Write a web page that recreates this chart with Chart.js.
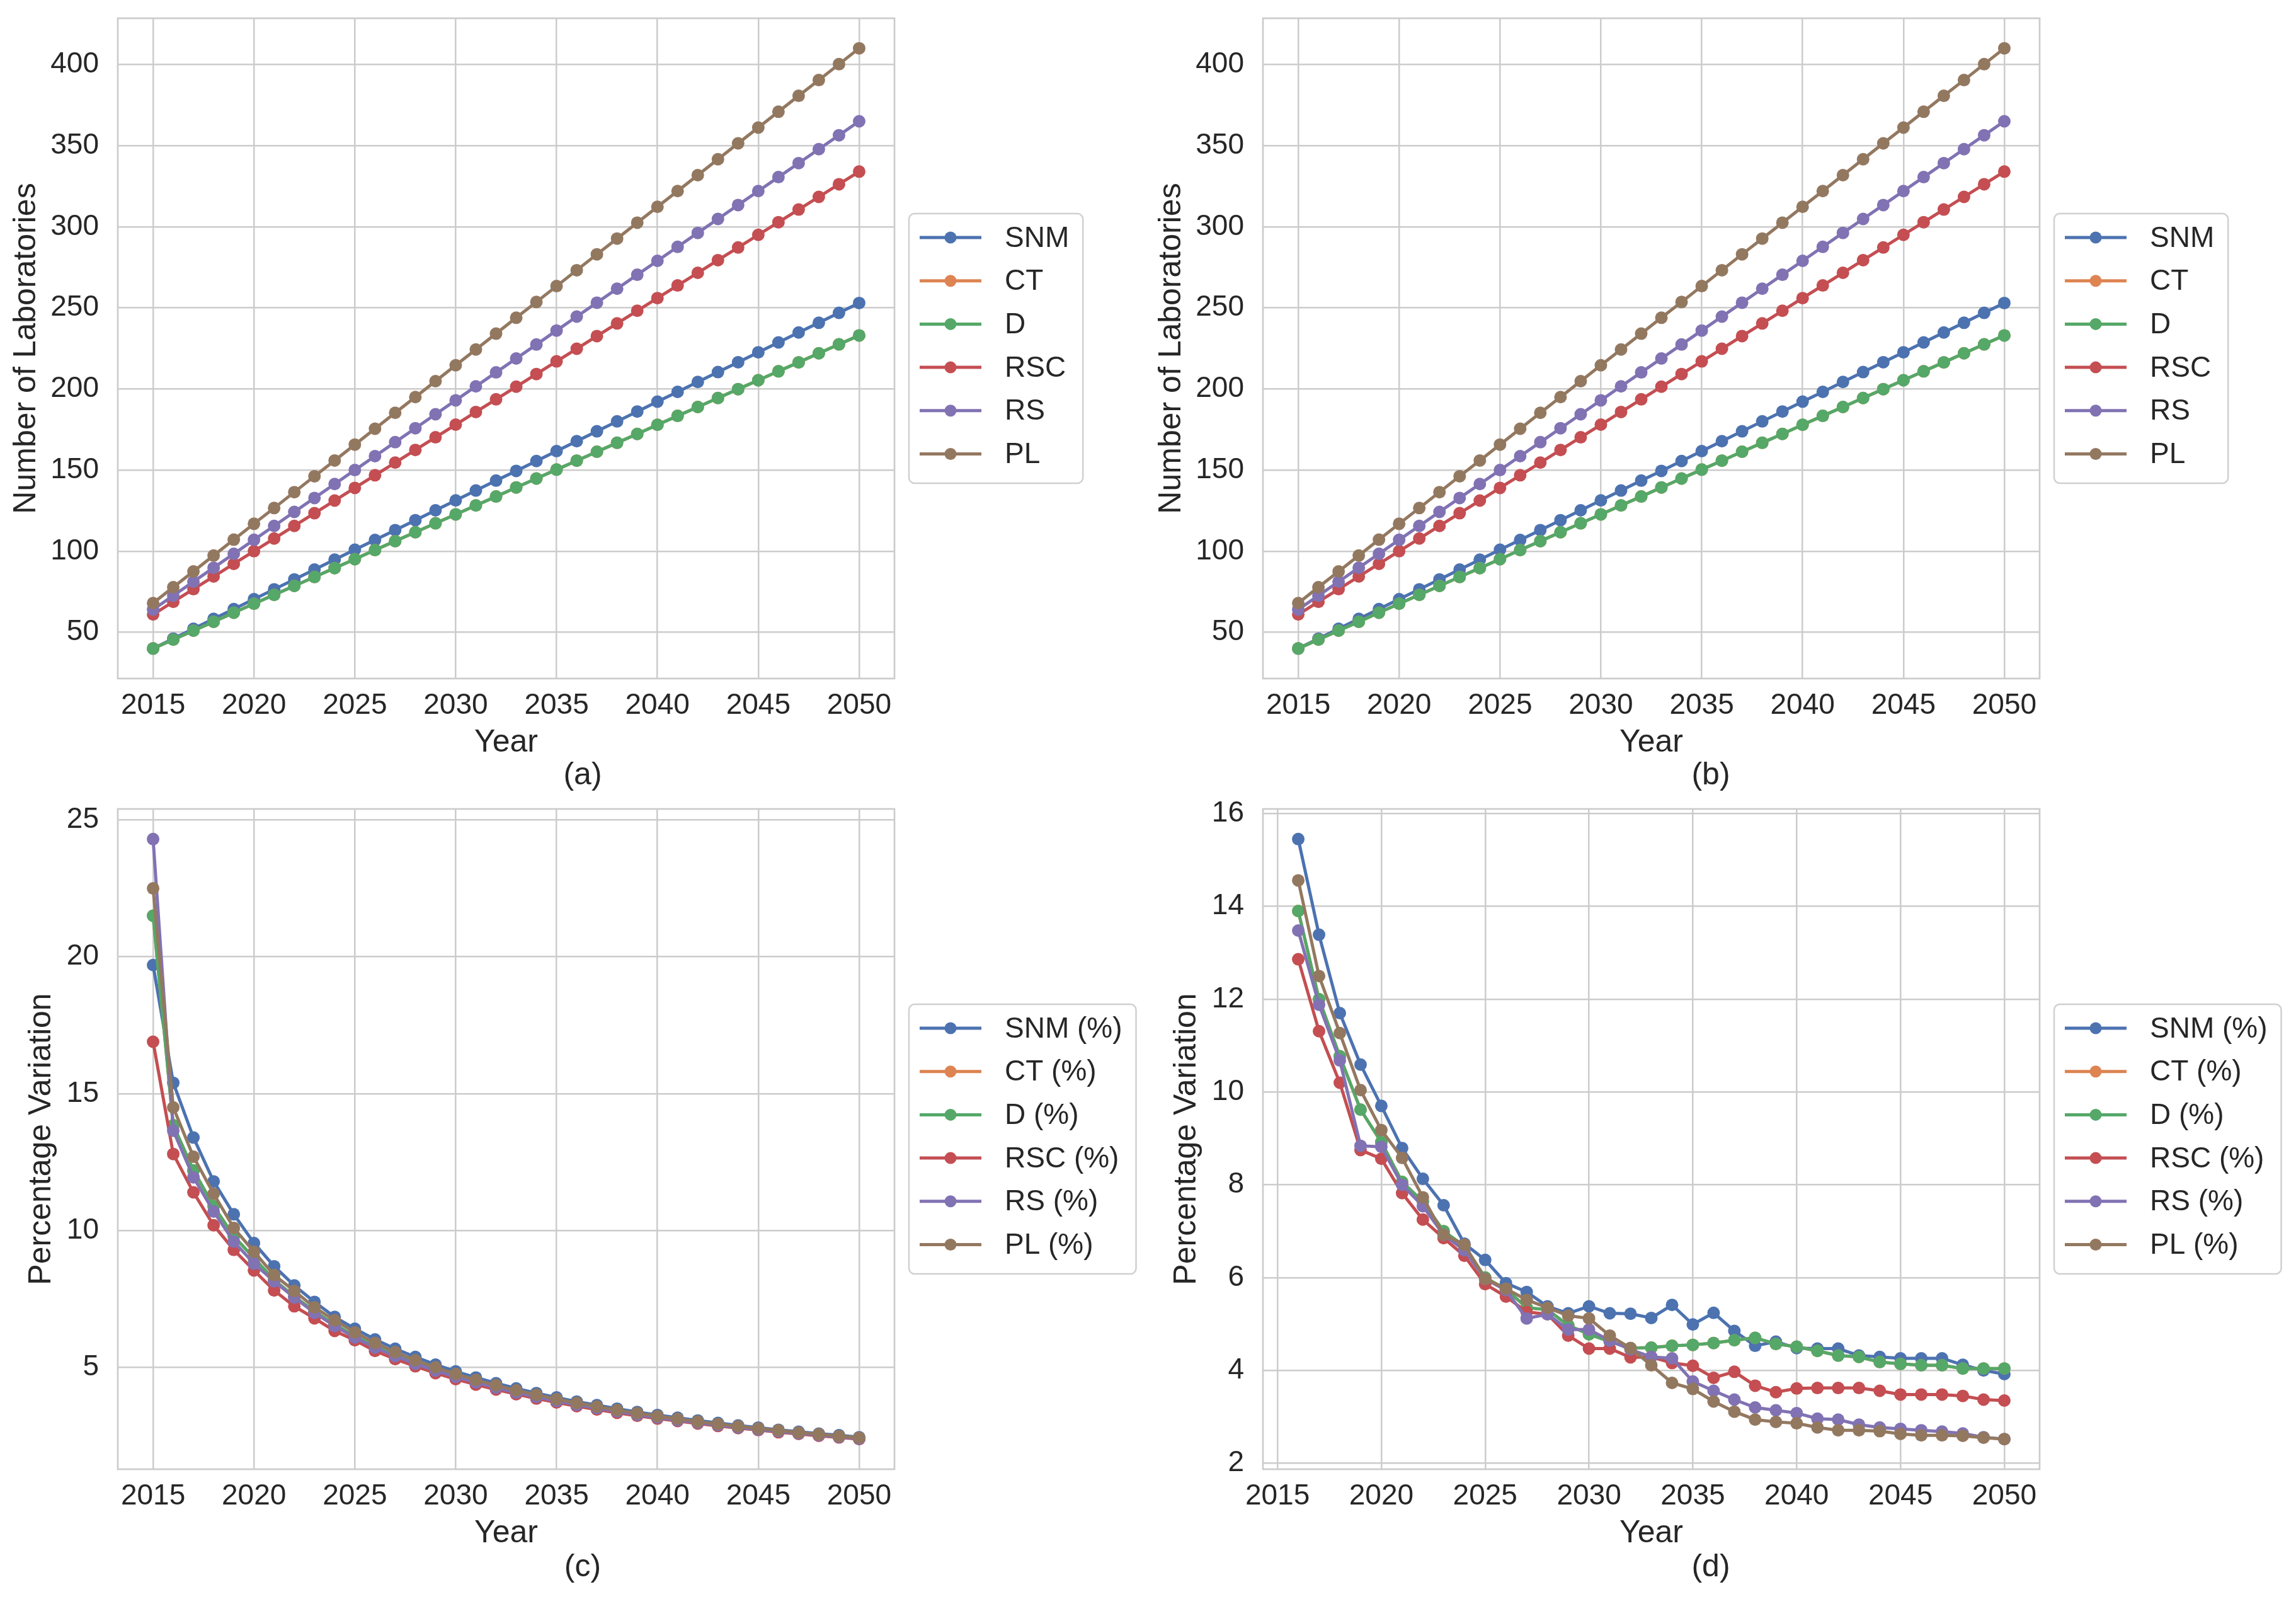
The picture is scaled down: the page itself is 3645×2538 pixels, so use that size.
<!DOCTYPE html>
<html>
<head>
<meta charset="utf-8">
<script src="https://cdn.jsdelivr.net/npm/chart.js@4.4.1/dist/chart.umd.min.js"></script>
<style>
  body { margin: 0; background: #fff; width: 3645px; height: 2538px; position: relative; overflow: hidden; }
  canvas { position: absolute; }
  .tag { position: absolute; transform: translate(-50%, -50%); font: 50px "Liberation Sans", Arial, sans-serif; color: #262626; }
</style>
</head>
<body>
<canvas id="chart-a" width="1850" height="1269" style="left:0;top:0"></canvas>
<canvas id="chart-b" width="1850" height="1269" style="left:1818px;top:0"></canvas>
<canvas id="chart-c" width="1850" height="1269" style="left:0;top:1255px"></canvas>
<canvas id="chart-d" width="1850" height="1269" style="left:1818px;top:1255px"></canvas>
<div class="tag" style="left:925px;top:1228px">(a)</div>
<div class="tag" style="left:2716px;top:1228px">(b)</div>
<div class="tag" style="left:925px;top:2485px">(c)</div>
<div class="tag" style="left:2716px;top:2485px">(d)</div>
<script>
const years = [2015, 2016, 2017, 2018, 2019, 2020, 2021, 2022, 2023, 2024, 2025, 2026,
  2027, 2028, 2029, 2030, 2031, 2032, 2033, 2034, 2035, 2036, 2037, 2038, 2039, 2040,
  2041, 2042, 2043, 2044, 2045, 2046, 2047, 2048, 2049, 2050];
const yearsD = years.slice(1);

const seriesNames = ['SNM', 'CT', 'D', 'RSC', 'RS', 'PL'];
const colors = ['#4C72B0', '#DD8452', '#55A868', '#C44E52', '#8172B3', '#937860'];

// number of laboratories, panels (a) and (b)
const snmCount = [40, 46.1, 52.2, 58.3, 64.3, 70.4, 76.5, 82.6, 88.7, 94.8, 100.9, 106.9,
  113.0, 119.1, 125.2, 131.3, 137.4, 143.5, 149.5, 155.6, 161.7, 167.8, 173.9, 180.0,
  186.1, 192.2, 198.2, 204.3, 210.4, 216.5, 222.6, 228.7, 234.8, 240.8, 246.9, 253.0];
const dCount = [40, 45.5, 51.0, 56.5, 62.1, 67.6, 73.1, 78.6, 84.1, 89.6, 95.1, 100.7,
  106.2, 111.7, 117.2, 122.7, 128.2, 133.7, 139.3, 144.8, 150.3, 155.8, 161.3, 166.8,
  172.3, 177.9, 183.4, 188.9, 194.4, 199.9, 205.4, 210.9, 216.4, 222.0, 227.5, 233.0];
const ctCount = dCount; // CT sits exactly under D in the picture
const rscCount = [61, 68.8, 76.6, 84.4, 92.2, 100, 107.8, 115.6, 123.4, 131.2, 139, 146.8,
  154.6, 162.4, 170.2, 178, 185.8, 193.6, 201.4, 209.2, 217, 224.8, 232.6, 240.4,
  248.2, 256, 263.8, 271.6, 279.4, 287.2, 295, 302.8, 310.6, 318.4, 326.2, 334];
const rsCount = [64, 72.6, 81.2, 89.8, 98.4, 107, 115.6, 124.2, 132.8, 141.4, 150, 158.6,
  167.2, 175.8, 184.4, 193, 201.6, 210.2, 218.8, 227.4, 236, 244.6, 253.2, 261.8,
  270.4, 279, 287.6, 296.2, 304.8, 313.4, 322, 330.6, 339.2, 347.8, 356.4, 365];
const plCount = [68, 77.8, 87.5, 97.3, 107.1, 116.9, 126.6, 136.4, 146.2, 155.9, 165.7, 175.5,
  185.3, 195.0, 204.8, 214.6, 224.3, 234.1, 243.9, 253.6, 263.4, 273.2, 283.0, 292.7,
  302.5, 312.3, 322.0, 331.8, 341.6, 351.4, 361.1, 370.9, 380.7, 390.4, 400.2, 410];

// percentage variation, panel (c)
const snmPctC = [19.7, 15.4, 13.4, 11.8, 10.6, 9.55, 8.7, 8.0, 7.4, 6.85, 6.42, 6.03,
  5.69, 5.39, 5.11, 4.86, 4.64, 4.43, 4.24, 4.07, 3.91, 3.76, 3.63, 3.5,
  3.38, 3.27, 3.17, 3.07, 2.98, 2.89, 2.81, 2.73, 2.66, 2.59, 2.53, 2.46];
const dPctC = [21.5, 13.85, 12.2, 10.9, 9.8, 9.0, 8.2, 7.6, 7.05, 6.58, 6.15, 5.80,
  5.48, 5.19, 4.94, 4.70, 4.49, 4.30, 4.12, 3.96, 3.81, 3.67, 3.54, 3.42,
  3.31, 3.20, 3.10, 3.01, 2.92, 2.84, 2.76, 2.68, 2.61, 2.55, 2.48, 2.42];
const ctPctC = dPctC;
const rscPctC = [16.9, 12.8, 11.4, 10.2, 9.3, 8.55, 7.82, 7.24, 6.8, 6.34, 6.0, 5.61,
  5.31, 5.05, 4.80, 4.58, 4.38, 4.20, 4.03, 3.87, 3.73, 3.59, 3.47, 3.35,
  3.24, 3.14, 3.05, 2.96, 2.87, 2.79, 2.72, 2.64, 2.58, 2.51, 2.45, 2.39];
const rsPctC = [24.3, 13.65, 11.95, 10.7, 9.6, 8.8, 8.15, 7.56, 7.0, 6.52, 6.1, 5.73,
  5.42, 5.14, 4.89, 4.66, 4.46, 4.27, 4.09, 3.93, 3.78, 3.64, 3.52, 3.40,
  3.28, 3.18, 3.08, 2.99, 2.90, 2.82, 2.74, 2.67, 2.60, 2.54, 2.47, 2.41];
const plPctC = [22.5, 14.5, 12.7, 11.35, 10.1, 9.23, 8.38, 7.8, 7.2, 6.73, 6.29, 5.90,
  5.57, 5.27, 5.01, 4.77, 4.55, 4.36, 4.17, 4.01, 3.85, 3.71, 3.58, 3.45,
  3.34, 3.23, 3.13, 3.03, 2.94, 2.86, 2.78, 2.71, 2.63, 2.57, 2.50, 2.44];

// percentage variation, panel (d), 2016-2050
const snmPctD = [15.45, 13.39, 11.7, 10.59, 9.7, 8.79, 8.13, 7.56, 6.73, 6.38, 5.88, 5.69,
  5.38, 5.23, 5.38, 5.23, 5.22, 5.13, 5.41, 4.99, 5.24, 4.85, 4.53, 4.62,
  4.48, 4.47, 4.47, 4.32, 4.29, 4.26, 4.26, 4.26, 4.12, 4.0, 3.92];
const dPctD = [13.9, 12.0, 10.77, 9.62, 8.92, 8.06, 7.64, 7.0, 6.68, 6.0, 5.75, 5.35,
  5.31, 4.97, 4.78, 4.62, 4.48, 4.49, 4.53, 4.55, 4.59, 4.65, 4.7, 4.57,
  4.51, 4.42, 4.32, 4.29, 4.18, 4.14, 4.11, 4.11, 4.04, 4.04, 4.04];
const ctPctD = dPctD;
const rscPctD = [12.86, 11.31, 10.2, 8.75, 8.56, 7.82, 7.25, 6.85, 6.47, 5.86, 5.59, 5.26,
  5.21, 4.75, 4.47, 4.47, 4.28, 4.29, 4.16, 4.1, 3.84, 3.97, 3.67, 3.53,
  3.61, 3.62, 3.62, 3.62, 3.56, 3.48, 3.48, 3.48, 3.45, 3.37, 3.35];
const rsPctD = [13.48, 11.88, 10.68, 8.84, 8.82, 8.0, 7.54, 6.92, 6.59, 5.97, 5.73, 5.12,
  5.21, 4.88, 4.88, 4.64, 4.45, 4.29, 4.26, 3.76, 3.56, 3.37, 3.2, 3.14,
  3.08, 2.96, 2.94, 2.83, 2.77, 2.74, 2.71, 2.68, 2.64, 2.56, 2.52];
const plPctD = [14.56, 12.5, 11.27, 10.04, 9.18, 8.58, 7.73, 6.92, 6.71, 5.97, 5.76, 5.52,
  5.35, 5.18, 5.12, 4.75, 4.48, 4.11, 3.73, 3.6, 3.33, 3.11, 2.94, 2.89,
  2.86, 2.77, 2.71, 2.71, 2.69, 2.63, 2.6, 2.6, 2.59, 2.55, 2.52];

const FONT = '"Liberation Sans", Arial, sans-serif';
const INK = '#262626';
const GRID = '#cccccc';

Chart.defaults.font.family = FONT;
Chart.defaults.color = INK;

// plot frame on all four sides, like the seaborn whitegrid spines
const frame = {
  id: 'frame',
  beforeDatasetsDraw(chart) {
    const { ctx, chartArea: a } = chart;
    ctx.save();
    ctx.strokeStyle = GRID;
    ctx.lineWidth = 2.7;
    ctx.strokeRect(a.left, a.top, a.right - a.left, a.bottom - a.top);
    ctx.restore();
  }
};

// boxed legend to the right of the plot, line + dot sample
const boxLegend = {
  id: 'boxLegend',
  afterDraw(chart) {
    const { ctx, chartArea: a } = chart;
    const sets = chart.data.datasets;
    ctx.save();
    ctx.font = '46px ' + FONT;
    let tw = 0;
    sets.forEach(s => { tw = Math.max(tw, ctx.measureText(s.label).width); });
    const x0 = a.right + 23;
    const w = 152 + tw + 22;
    const h = 428;
    const y0 = (a.top + a.bottom) / 2 - h / 2;
    ctx.fillStyle = 'rgba(255,255,255,0.8)';
    ctx.strokeStyle = '#d0d0d0';
    ctx.lineWidth = 2.5;
    ctx.beginPath();
    ctx.roundRect(x0, y0, w, h, 9);
    ctx.fill();
    ctx.stroke();
    sets.forEach((s, i) => {
      const cy = y0 + 38 + i * 68.7;
      ctx.strokeStyle = s.borderColor;
      ctx.lineWidth = 5;
      ctx.beginPath();
      ctx.moveTo(x0 + 17, cy);
      ctx.lineTo(x0 + 115, cy);
      ctx.stroke();
      ctx.fillStyle = s.borderColor;
      ctx.beginPath();
      ctx.arc(x0 + 66, cy, 9.5, 0, Math.PI * 2);
      ctx.fill();
      ctx.fillStyle = INK;
      ctx.textBaseline = 'middle';
      ctx.textAlign = 'left';
      ctx.fillText(s.label, x0 + 152, cy + 2);
    });
    ctx.restore();
  }
};

function makeChart(id, xs, valueSets, suffix, xRange, yRange, yStep, yTitle, yTitlePad) {
  const datasets = valueSets.map((vals, i) => ({
    label: seriesNames[i] + suffix,
    data: xs.map((x, k) => ({ x: x, y: vals[k] })),
    borderColor: colors[i],
    backgroundColor: colors[i],
    pointBackgroundColor: colors[i],
    pointBorderColor: colors[i],
    borderWidth: 5,
    pointRadius: 10,
    pointBorderWidth: 0,
    tension: 0,
    order: valueSets.length - i
  }));

  return new Chart(document.getElementById(id), {
    type: 'line',
    data: { datasets },
    options: {
      responsive: false,
      animation: false,
      layout: { padding: { left: 0, top: 29, right: 430, bottom: 65 } },
      plugins: { legend: { display: false }, tooltip: { enabled: false } },
      scales: {
        x: {
          type: 'linear',
          min: xRange[0],
          max: xRange[1],
          afterFit: s => { s.height = 127; s.paddingLeft = 0; s.paddingRight = 0; },
          grid: { color: GRID, lineWidth: 2.5, drawTicks: false },
          border: { display: false },
          ticks: {
            stepSize: 5, includeBounds: false, padding: 16,
            font: { size: 46 }, color: INK,
            callback: v => String(v)
          },
          title: { display: true, text: 'Year', font: { size: 50, lineHeight: 1 }, color: INK, padding: 0 }
        },
        y: {
          min: yRange[0],
          max: yRange[1],
          afterFit: s => { s.width = 187; s.paddingTop = 0; s.paddingBottom = 0; },
          grid: { color: GRID, lineWidth: 2.5, drawTicks: false },
          border: { display: false },
          ticks: {
            stepSize: yStep, includeBounds: false, padding: 30,
            font: { size: 46 }, color: INK,
            callback: v => String(v)
          },
          title: { display: true, text: yTitle, font: { size: 50, lineHeight: 1 }, color: INK, padding: { top: yTitlePad, bottom: 0 } }
        }
      }
    },
    plugins: [frame, boxLegend]
  });
}

const countSets = [snmCount, ctCount, dCount, rscCount, rsCount, plCount];
makeChart('chart-a', years, countSets, '', [2013.25, 2051.75], [21.5, 428.5], 50, 'Number of Laboratories', 17);
makeChart('chart-b', years, countSets, '', [2013.25, 2051.75], [21.5, 428.5], 50, 'Number of Laboratories', 17);
makeChart('chart-c', years, [snmPctC, ctPctC, dPctC, rscPctC, rsPctC, plPctC], ' (%)',
  [2013.25, 2051.75], [1.29, 25.4], 5, 'Percentage Variation', 41);
makeChart('chart-d', yearsD, [snmPctD, ctPctD, dPctD, rscPctD, rsPctD, plPctD], ' (%)',
  [2014.3, 2051.7], [1.87, 16.1], 2, 'Percentage Variation', 41);
</script>
</body>
</html>
